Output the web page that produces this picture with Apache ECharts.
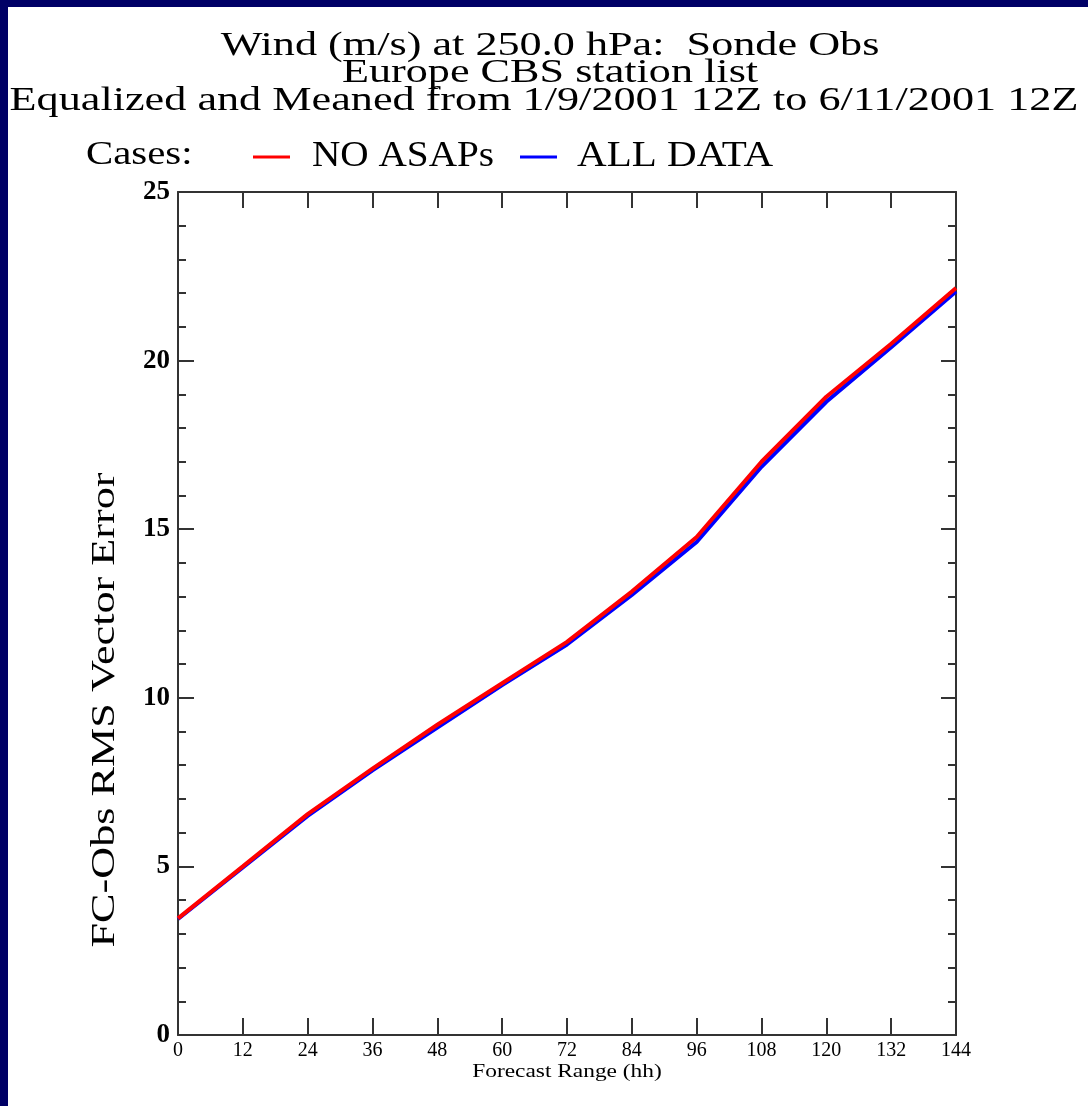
<!DOCTYPE html>
<html>
<head>
<meta charset="utf-8">
<script src="https://cdn.jsdelivr.net/npm/echarts@6/dist/echarts.min.js"></script>
<style>
html,body{margin:0;padding:0;background:#fff;}
#chart{width:1088px;height:1106px;}
</style>
</head>
<body>
<div id="chart"></div>
<script>
const hours = [0, 12, 24, 36, 48, 60, 72, 84, 96, 108, 120, 132, 144];
const noAsaps = [3.46, 5.0, 6.55, 7.9, 9.2, 10.43, 11.66, 13.15, 14.77, 17.0, 18.93, 20.5, 22.15];
const allData = [3.44, 4.97, 6.5, 7.85, 9.12, 10.38, 11.58, 13.05, 14.62, 16.85, 18.78, 20.4, 22.05];
const titleLines = [
  'Wind (m/s) at 250.0 hPa:  Sonde Obs',
  'Europe CBS station list',
  'Equalized and Meaned from 1/9/2001 12Z to 6/11/2001 12Z'
];
const seriesNames = ['NO ASAPs', 'ALL DATA'];
const seriesColors = ['#ff0000', '#0000ff'];
const legendLabel = 'Cases:';
const xName = 'Forecast Range (hh)';
const yName = 'FC-Obs RMS Vector Error';

const serif = '"Liberation Serif", "DejaVu Serif", serif';
const chart = echarts.init(document.getElementById('chart'));

const axisLine = {show: true, onZero: false, lineStyle: {color: '#333', width: 2}};
const tickLine = {color: '#333', width: 2};

function txt(text, x, y, size, scaleX, align, extra) {
  return Object.assign({
    type: 'text', x: x, y: y, scaleX: scaleX, silent: true,
    style: {text: text, font: size + 'px ' + serif, fill: '#000', align: align, verticalAlign: 'middle'}
  }, extra || {});
}

chart.setOption({
  animation: false,
  backgroundColor: '#fff',
  grid: {left: 178, right: 132, top: 192, bottom: 71, show: false},
  xAxis: [{
    type: 'value', min: 0, max: 144, interval: 12, position: 'bottom',
    axisLine: axisLine,
    axisTick: {inside: true, length: 17, lineStyle: tickLine},
    axisLabel: {fontFamily: serif, fontSize: 20, color: '#000', margin: 6},
    splitLine: {show: false}
  }, {
    type: 'value', min: 0, max: 144, interval: 12, position: 'top',
    axisLine: axisLine,
    axisTick: {inside: true, length: 16, lineStyle: tickLine},
    axisLabel: {show: false},
    splitLine: {show: false}
  }],
  yAxis: [{
    type: 'value', min: 0, max: 25, interval: 5, position: 'left',
    axisLine: axisLine,
    axisTick: {show: true, inside: true, length: 16, lineStyle: tickLine},
    minorTick: {show: true, splitNumber: 5, length: 8, lineStyle: tickLine},
    axisLabel: {fontFamily: serif, fontSize: 27, fontWeight: 'bold', color: '#000', margin: 8},
    splitLine: {show: false}
  }, {
    type: 'value', min: 0, max: 25, interval: 5, position: 'right',
    axisLine: axisLine,
    axisTick: {show: true, inside: true, length: 15, lineStyle: tickLine},
    minorTick: {show: true, splitNumber: 5, length: 8, lineStyle: tickLine},
    axisLabel: {show: false},
    splitLine: {show: false}
  }],
  series: [{
    name: seriesNames[1], type: 'line', color: seriesColors[1],
    data: hours.map((h, i) => [h, allData[i]]),
    showSymbol: false, symbol: 'none',
    lineStyle: {color: seriesColors[1], width: 4}, z: 2
  }, {
    name: seriesNames[0], type: 'line', color: seriesColors[0],
    data: hours.map((h, i) => [h, noAsaps[i]]),
    showSymbol: false, symbol: 'none',
    lineStyle: {color: seriesColors[0], width: 4}, z: 3
  }],
  graphic: [
    {type: 'rect', left: 0, top: 0, shape: {width: 1088, height: 7}, style: {fill: '#000066'}, silent: true},
    {type: 'rect', left: 0, top: 0, shape: {width: 8, height: 1106}, style: {fill: '#000066'}, silent: true},
    txt(titleLines[0], 550, 46, 34, 1.3, 'center'),
    txt(titleLines[1], 550, 73, 34, 1.3, 'center'),
    txt(titleLines[2], 544, 101, 34, 1.3, 'center'),
    txt(legendLabel, 86, 155, 34, 1.2, 'left'),
    {type: 'line', silent: true, shape: {x1: 253, y1: 157, x2: 290, y2: 157}, style: {stroke: seriesColors[0], lineWidth: 3}},
    txt(seriesNames[0], 312, 157, 36, 1.09, 'left'),
    {type: 'line', silent: true, shape: {x1: 520, y1: 157, x2: 557, y2: 157}, style: {stroke: seriesColors[1], lineWidth: 3}},
    txt(seriesNames[1], 577, 157, 36, 1.14, 'left'),
    txt(xName, 567, 1072, 19, 1.23, 'center'),
    txt(yName, 105, 710, 34, 1.3, 'center', {rotation: Math.PI / 2})
  ]
});
</script>
</body>
</html>
